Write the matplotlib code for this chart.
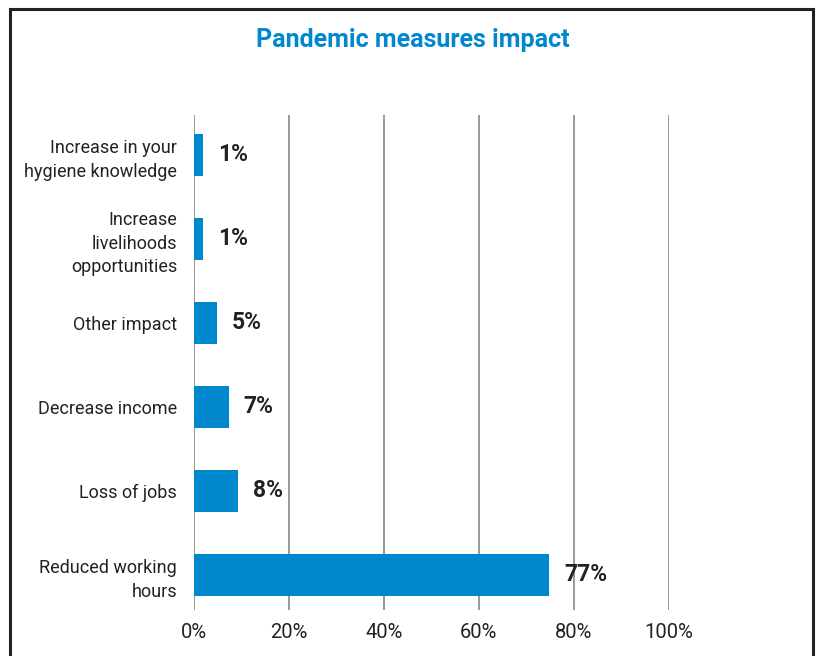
import matplotlib
matplotlib.use("Agg")
import matplotlib.pyplot as plt
from matplotlib.patches import Rectangle

categories = ["Increase in your\nhygiene knowledge", "Increase\nlivelihoods\nopportunities",
              "Other impact", "Decrease income", "Loss of jobs", "Reduced working\nhours"]
bar_values = [1.9, 1.9, 4.8, 7.4, 9.3, 74.8]
value_labels = ["1%", "1%", "5%", "7%", "8%", "77%"]
xticks = [0, 20, 40, 60, 80, 100]
xtick_labels = ["0%", "20%", "40%", "60%", "80%", "100%"]

plt.rcParams['font.family'] = ['Roboto', 'DejaVu Sans']
BLUE = "#0088CE"

fig = plt.figure(figsize=(8.22, 6.56), dpi=100)
ax = fig.add_axes([193.7/822, 1-610/656, 475/822, (610-115)/656])

n = len(categories)
ypos = [n - 1 - i for i in range(n)]
ax.barh(ypos, bar_values, height=0.5, color=BLUE, zorder=3)
for y, v, lab in zip(ypos, bar_values, value_labels):
    ax.annotate(lab, (v, y), xytext=(15, 0), textcoords="offset pixels",
                va="center", ha="left", fontsize=16.5, fontweight="bold", color="#222222", zorder=4)

ax.set_xlim(0, 100)
ax.set_ylim(-0.417, n - 1 + 0.476)
ax.set_yticks(ypos)
ax.set_yticklabels(categories, fontsize=13, color="#222222", linespacing=1.4)
ax.set_xticks(xticks)
ax.set_xticklabels(xtick_labels, fontsize=14.5, color="#222222")
ax.tick_params(axis="both", length=0)
ax.tick_params(axis="y", pad=12)
ax.tick_params(axis="x", pad=9)
ax.grid(axis="x", color="#999999", linewidth=1.4, zorder=0)
for s in ax.spines.values():
    s.set_visible(False)

fig.text(413/822, 1-40/656, "Pandemic measures impact", ha="center", va="center",
         fontsize=18, fontweight="bold", color=BLUE)

fig.patches.append(Rectangle((10/822, -0.02), 803/822, 1-9/656+0.02, transform=fig.transFigure,
                             fill=False, edgecolor="#222222", linewidth=2.2))

fig.savefig("out.png", dpi=100)
